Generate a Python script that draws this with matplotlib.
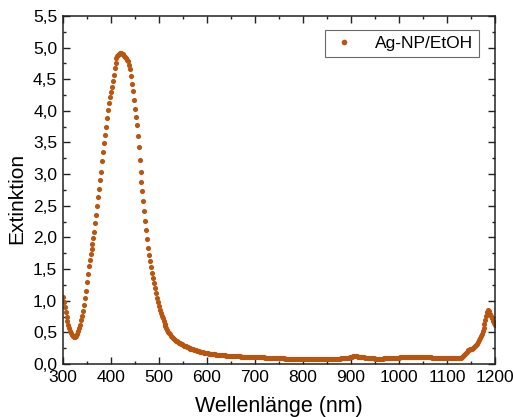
import numpy as np
import matplotlib
matplotlib.use("Agg")
import matplotlib.pyplot as plt
from matplotlib.ticker import MultipleLocator, FuncFormatter

plt.rcParams['font.family'] = ['Liberation Sans', 'DejaVu Sans']

# spectrum, 2 nm steps from 300 to 1200 nm
wavelength = np.arange(300, 1201, 2)
extinction = [
    1.06, 0.98, 0.90, 0.82, 0.75, 0.68, 0.62, 0.57, 0.52, 0.49,
    0.46, 0.44, 0.43, 0.43, 0.45, 0.48, 0.52, 0.57, 0.62, 0.69,
    0.76, 0.84, 0.93, 1.04, 1.16, 1.29, 1.42, 1.55, 1.65, 1.74,
    1.82, 1.90, 1.99, 2.09, 2.22, 2.36, 2.50, 2.64, 2.77, 2.90,
    3.04, 3.20, 3.35, 3.49, 3.61, 3.74, 3.88, 4.01, 4.12, 4.22,
    4.30, 4.38, 4.47, 4.57, 4.67, 4.76, 4.83, 4.86, 4.88, 4.90,
    4.91, 4.91, 4.90, 4.89, 4.87, 4.85, 4.84, 4.81, 4.78, 4.73,
    4.66, 4.55, 4.43, 4.31, 4.17, 4.03, 3.91, 3.77, 3.60, 3.43,
    3.23, 3.04, 2.88, 2.73, 2.57, 2.41, 2.26, 2.11, 1.97, 1.84,
    1.73, 1.63, 1.53, 1.44, 1.36, 1.28, 1.20, 1.12, 1.05, 0.98,
    0.92, 0.86, 0.81, 0.76, 0.72, 0.68, 0.64, 0.60, 0.57, 0.54,
    0.51, 0.49, 0.47, 0.45, 0.43, 0.41, 0.40, 0.38, 0.37, 0.36,
    0.35, 0.34, 0.33, 0.32, 0.31, 0.30, 0.29, 0.285, 0.28, 0.27,
    0.265, 0.26, 0.25, 0.245, 0.24, 0.235, 0.23, 0.225, 0.22, 0.215,
    0.21, 0.205, 0.20, 0.196, 0.192, 0.188, 0.184, 0.18, 0.177, 0.174,
    0.171, 0.168, 0.165, 0.163, 0.161, 0.159, 0.157, 0.155, 0.153, 0.151,
    0.149, 0.147, 0.145, 0.144, 0.142, 0.141, 0.139, 0.138, 0.137, 0.135,
    0.134, 0.133, 0.132, 0.131, 0.130, 0.129, 0.128, 0.127, 0.126, 0.125,
    0.124, 0.123, 0.122, 0.121, 0.121, 0.120, 0.119, 0.118, 0.118, 0.117,
    0.116, 0.115, 0.115, 0.114, 0.113, 0.113, 0.112, 0.111, 0.111, 0.110,
    0.109, 0.109, 0.108, 0.108, 0.107, 0.106, 0.106, 0.105, 0.105, 0.104,
    0.104, 0.103, 0.102, 0.102, 0.101, 0.100, 0.099, 0.097, 0.095, 0.094,
    0.093, 0.092, 0.092, 0.091, 0.091, 0.090, 0.090, 0.089, 0.089, 0.088,
    0.088, 0.087, 0.087, 0.086, 0.086, 0.085, 0.085, 0.085, 0.084, 0.084,
    0.084, 0.083, 0.083, 0.083, 0.082, 0.082, 0.082, 0.081, 0.081, 0.081,
    0.080, 0.080, 0.080, 0.080, 0.079, 0.079, 0.079, 0.079, 0.079, 0.078,
    0.078, 0.078, 0.078, 0.078, 0.077, 0.077, 0.078, 0.078, 0.079, 0.079,
    0.079, 0.080, 0.080, 0.080, 0.081, 0.081, 0.081, 0.082, 0.082, 0.082,
    0.083, 0.083, 0.083, 0.084, 0.084, 0.085, 0.085, 0.086, 0.086, 0.087,
    0.088, 0.089, 0.090, 0.091, 0.092, 0.094, 0.096, 0.098, 0.101, 0.105,
    0.110, 0.116, 0.121, 0.124, 0.125, 0.124, 0.121, 0.118, 0.115, 0.112,
    0.110, 0.108, 0.106, 0.105, 0.104, 0.103, 0.102, 0.101, 0.099, 0.097,
    0.095, 0.093, 0.091, 0.089, 0.088, 0.087, 0.086, 0.086, 0.086, 0.086,
    0.086, 0.086, 0.087, 0.087, 0.088, 0.088, 0.089, 0.089, 0.090, 0.091,
    0.091, 0.092, 0.093, 0.094, 0.095, 0.096, 0.097, 0.099, 0.100, 0.102,
    0.103, 0.105, 0.107, 0.109, 0.111, 0.112, 0.113, 0.114, 0.115, 0.115,
    0.115, 0.114, 0.114, 0.113, 0.113, 0.112, 0.112, 0.111, 0.111, 0.110,
    0.110, 0.110, 0.109, 0.109, 0.108, 0.108, 0.107, 0.107, 0.106, 0.106,
    0.105, 0.105, 0.104, 0.104, 0.103, 0.103, 0.102, 0.102, 0.101, 0.101,
    0.100, 0.099, 0.099, 0.098, 0.098, 0.097, 0.096, 0.096, 0.095, 0.095,
    0.094, 0.094, 0.093, 0.093, 0.092, 0.092, 0.092, 0.091, 0.091, 0.091,
    0.091, 0.092, 0.093, 0.095, 0.098, 0.103, 0.110, 0.120, 0.135, 0.155,
    0.175, 0.195, 0.215, 0.228, 0.235, 0.238, 0.242, 0.250, 0.262, 0.278,
    0.298, 0.320, 0.345, 0.375, 0.410, 0.445, 0.480, 0.520, 0.570, 0.625,
    0.700, 0.760, 0.820, 0.850, 0.830, 0.790, 0.760, 0.720, 0.680, 0.650,
    0.620,
]
series_label = "Ag-NP/EtOH"
dot_color = "#B8560F"

fig = plt.figure(figsize=(5.13, 4.17), dpi=100)
ax = fig.add_axes([0.1222, 0.127, 0.8428, 0.835])

ax.plot(wavelength, extinction, linestyle="none", marker="o", markersize=3.7,
        markeredgewidth=0, color=dot_color, label=series_label)

ax.set_xlim(300, 1200)
ax.set_ylim(0, 5.5)
ax.xaxis.set_major_locator(MultipleLocator(100))
ax.xaxis.set_minor_locator(MultipleLocator(50))
ax.yaxis.set_major_locator(MultipleLocator(0.5))
ax.yaxis.set_minor_locator(MultipleLocator(0.25))
ax.yaxis.set_major_formatter(FuncFormatter(lambda v, p: f"{v:.1f}".replace(".", ",")))

ax.tick_params(which="both", direction="in", top=True, right=True, labelsize=12.5,
               colors="#222222", labelcolor="black")
ax.tick_params(which="major", length=5, width=1.0, pad=4)
ax.tick_params(which="minor", length=2.5, width=1.0)
for sp in ax.spines.values():
    sp.set_linewidth(1.1)
    sp.set_color("#222222")

ax.set_xlabel("Wellenlänge (nm)", fontsize=15.5, labelpad=8)
ax.set_ylabel("Extinktion", fontsize=15, labelpad=1)
ax.yaxis.set_label_coords(-0.085, 0.475)

leg = ax.legend(loc="upper right", fontsize=12.5, frameon=True, fancybox=False,
                borderpad=0.35, handletextpad=1.0, handlelength=1.5, borderaxespad=0,
                bbox_to_anchor=(0.963, 0.96), markerscale=1.1)
leg.get_frame().set_edgecolor("#444444")
leg.get_frame().set_linewidth(0.8)

fig.savefig("out.png", dpi=100)
